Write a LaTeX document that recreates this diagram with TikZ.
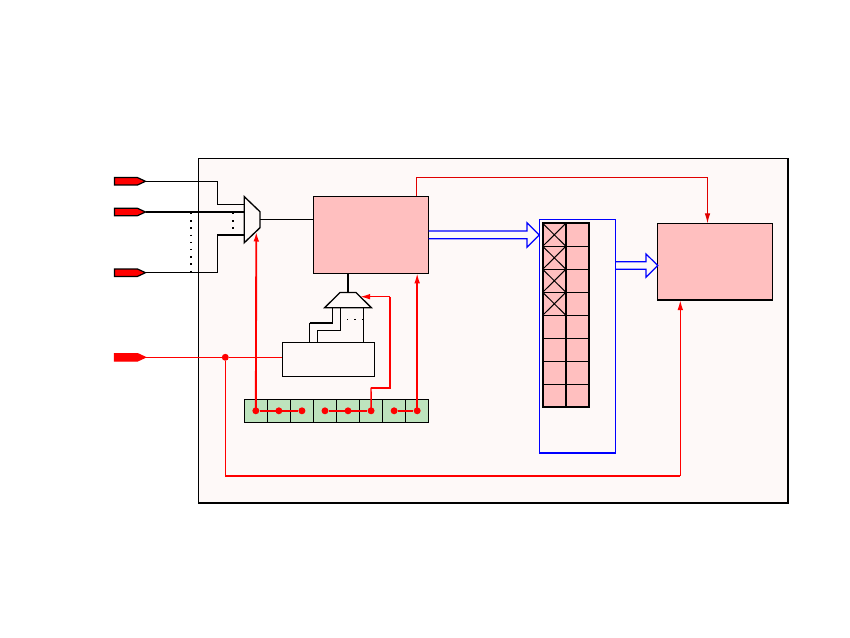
\documentclass[tikz,border=0pt]{standalone}
\usetikzlibrary{arrows.meta}
\definecolor{bgpink}{HTML}{FEF9F8}
\definecolor{salmon}{HTML}{FFBFBF}
\definecolor{mint}{HTML}{BDE3BD}
\newcommand{\pxnode}[6]{\node[pxrect,#6,minimum width={(#4-#2)*0.75pt},minimum height={(#5-#3)*0.75pt}] (#1) at ({(#2+#4)/2},{(#3+#5)/2}) {};}
\newcommand{\pinshape}[4]{\coordinate (#1) at (145.5,#2);
  \draw[draw=#3,fill=red,line width=#4,line join=miter] (114.5,#2-3.7) -- (137.5,#2-3.7) -- (#1) -- (137.5,#2+3.7) -- (114.5,#2+3.7) -- cycle;}
\tikzset{
  pxrect/.style={rectangle,inner sep=0pt,outer sep=0pt},
  thinline/.style={draw=black,line width=0.75pt},
  heavy/.style={black,line width=1.6pt},
  wire/.style={black,line width=0.75pt},
  rsig/.style={red,line width=0.85pt},
  rsigmid/.style={red,line width=1.1pt},
  rsigthick/.style={red,line width=1.4pt},
  redtip/.style={-{Latex[length=7.5pt,width=4.2pt]}},
  reddot/.style={circle,fill=red,inner sep=0pt,minimum size=5.2pt},
  dotcol/.style={black,line width=1.1pt,dash pattern=on 1.1pt off 4.3pt},
  bluepipe/.style={blue,line width=0.9pt,line join=miter},
}
\begin{document}
\begin{tikzpicture}[x=0.75pt,y=-0.75pt]
\useasboundingbox (0,0) rectangle (850,638);
% enclosure
\pxnode{chip}{198.3}{158.3}{788.3}{502.7}{fill=bgpink,thinline}
\draw[black,line width=1.5pt] (chip.south west) -- (chip.south east) -- (chip.north east);
% pins
\pinshape{pa}{181.3}{black}{0.9pt}
\pinshape{pb}{212}{black}{0.9pt}
\pinshape{pc}{272.7}{black}{0.9pt}
\pinshape{pd}{357.3}{red}{0.9pt}
% blocks
\pxnode{fetch}{313.5}{196.5}{428.7}{273.3}{fill=salmon,thinline}
\pxnode{sink}{657.3}{223.3}{772.3}{300}{fill=salmon,thinline}
\draw[black,line width=1.5pt] (sink.south west) -- (sink.south east);
\pxnode{ctrl}{282.3}{342.3}{374.3}{376.3}{thinline}
% strip
\foreach \i [evaluate=\i as \xa using {244.3+23.05*\i},evaluate=\i as \xb using {244.3+23.05*(\i+1)}] in {0,...,7}{
  \pxnode{s\i}{\xa}{399.3}{\xb}{422.3}{fill=mint,thinline}
  \node[reddot] (d\i) at (s\i.center) {};
}
% blue frame
\pxnode{frame}{539.3}{219.7}{615.3}{453}{draw=blue,line width=0.9pt}
\draw[blue,line width=1.6pt] (frame.south west) -- (frame.south east);
% table
\foreach \r [evaluate=\r as \ya using {223.3+23*\r},evaluate=\r as \yb using {223.3+23*(\r+1)}] in {0,...,7}{
  \pxnode{ta\r}{542.7}{\ya}{565.9}{\yb}{fill=salmon,thinline}
  \pxnode{tb\r}{565.9}{\ya}{589.3}{\yb}{fill=salmon,thinline}
}
\foreach \r in {0,...,3}{
  \draw[wire] (ta\r.north west) -- (ta\r.south east) (ta\r.north east) -- (ta\r.south west);
}
\draw[black,line width=1.5pt] (ta0.north west) rectangle (tb7.south east);
\draw[black,line width=1.5pt] (ta0.north east) -- (ta7.south east);
% input mux
\coordinate (m1) at (244.3,196.7);
\coordinate (m2) at (260,211.7);
\coordinate (m3) at (260,227.7);
\coordinate (m4) at (244.3,242.7);
\coordinate (mia) at (244.3,204.3);
\coordinate (mib) at (244.3,212);
\coordinate (mic) at (244.3,235);
\coordinate (mout) at (260,219.5);
\coordinate (msel) at (256.3,231.5);
\coordinate (ea) at (217.3,181.3);
\coordinate (ec) at (217.3,272.7);
\coordinate (eb) at (198.3,212);
\coordinate (ed) at (217.3,235);
\draw[wire] (pa) -- (ea) |- (mia);
\draw[wire,line width=1pt] (pb) -- (eb);
\draw[heavy] (eb) -- (mib);
\draw[wire] (pc) -- (ec) -- (ed);
\draw[heavy] (ed) -- (mic);
\draw[black,line width=1pt,line join=miter] (m1) -- (m2) -- (m3) -- (m4) -- cycle;
\draw[wire] (mout) -- (fetch.west |- mout);
\draw[dotcol] (191,213) -- (191,271);
\draw[dotcol] (233,213) -- (233,229);
% second mux
\coordinate (k1) at (340,292.5);
\coordinate (k2) at (356,292.5);
\coordinate (k3) at (371.3,307.7);
\coordinate (k4) at (324.7,307.7);
\coordinate (ktop) at (348,292.5);
\draw[heavy,line width=1.9pt] (fetch.south -| ktop) -- (ktop);
\draw[black,line width=1pt,line join=miter] (k1) -- (k2) -- (k3) -- (k4) -- cycle;
\coordinate (wa0) at (309.7,342.3);
\coordinate (wa1) at (309.7,322.7);
\coordinate (wa2) at (332.7,322.7);
\coordinate (wa3) at (332.7,307.7);
\coordinate (wb0) at (317.3,342.3);
\coordinate (wb1) at (317.3,330.3);
\coordinate (wb2) at (340.3,330.3);
\coordinate (wb3) at (340.3,307.7);
\coordinate (wc0) at (363.3,342.3);
\coordinate (wc3) at (363.3,307.7);
\draw[wire] (wa0) -- (wa1);
\draw[black,line width=1.3pt] (wa1) -- (wa2);
\draw[wire] (wa2) -- (wa3);
\draw[wire] (wb0) -- (wb1) -- (wb2) -- (wb3);
\draw[wire] (wc0) -- (wc3);
\draw[black,line width=0.9pt,dash pattern=on 0.9pt off 4.65pt] (347,319.3) -- (363,319.3);
% red control
\draw[rsigthick] (d0) -- (d2);
\draw[rsigthick] (d3) -- (d5);
\draw[rsigthick] (d6) -- (d7);
\draw[rsigthick,redtip] (d0.center) -- (msel);
\coordinate (ra) at (371,387.7);
\coordinate (rb) at (390,387.7);
\coordinate (rc) at (390,296.7);
\coordinate (rt) at (360,296.7);
\draw[rsigmid] (d5.center) -- (ra);
\draw[rsigthick] (ra) -- (rb) -- (rc);
\draw[rsigmid,redtip] (rc) -- (rt);
\draw[rsigmid,redtip] (d7.center) -- (d7.center |- fetch.south);
\node[reddot] (j) at (225.3,357.3) {};
\draw[rsig] (pd) -- (j) -- (ctrl.west |- j);
\coordinate (rd) at (225.3,475.8);
\coordinate (re) at (680.3,475.8);
\draw[rsig] (j) -- (rd);
\draw[rsigthick] (rd) -- (re);
\draw[rsigmid,redtip] (re) -- (re |- sink.south);
\coordinate (ta) at (416.5,177.8);
\coordinate (tc) at (707.5,177.8);
\draw[red!88!black,line width=0.75pt] (ta |- fetch.north) -- (ta) -- (tc);
\draw[red!88!black,line width=0.75pt,redtip] (tc) -- (tc |- sink.north);
% buses
\coordinate (ba1) at (428.7,231);
\coordinate (ba2) at (527,231);
\coordinate (ba3) at (527,222.7);
\coordinate (ba4) at (539.3,235);
\coordinate (ba5) at (527,247.3);
\coordinate (ba6) at (527,238.7);
\coordinate (ba7) at (428.7,238.7);
\draw[bluepipe] (ba1) -- (ba2) -- (ba3) -- (ba4) -- (ba5) -- (ba6) -- (ba7);
\coordinate (bb1) at (615.3,261.7);
\coordinate (bb2) at (646,261.7);
\coordinate (bb3) at (646,254);
\coordinate (bb4) at (657.8,265.5);
\coordinate (bb5) at (646,277.3);
\coordinate (bb6) at (646,269.3);
\coordinate (bb7) at (615.3,269.3);
\draw[bluepipe] (bb1) -- (bb2) -- (bb3) -- (bb4) -- (bb5) -- (bb6) -- (bb7);
\end{tikzpicture}
\end{document}
